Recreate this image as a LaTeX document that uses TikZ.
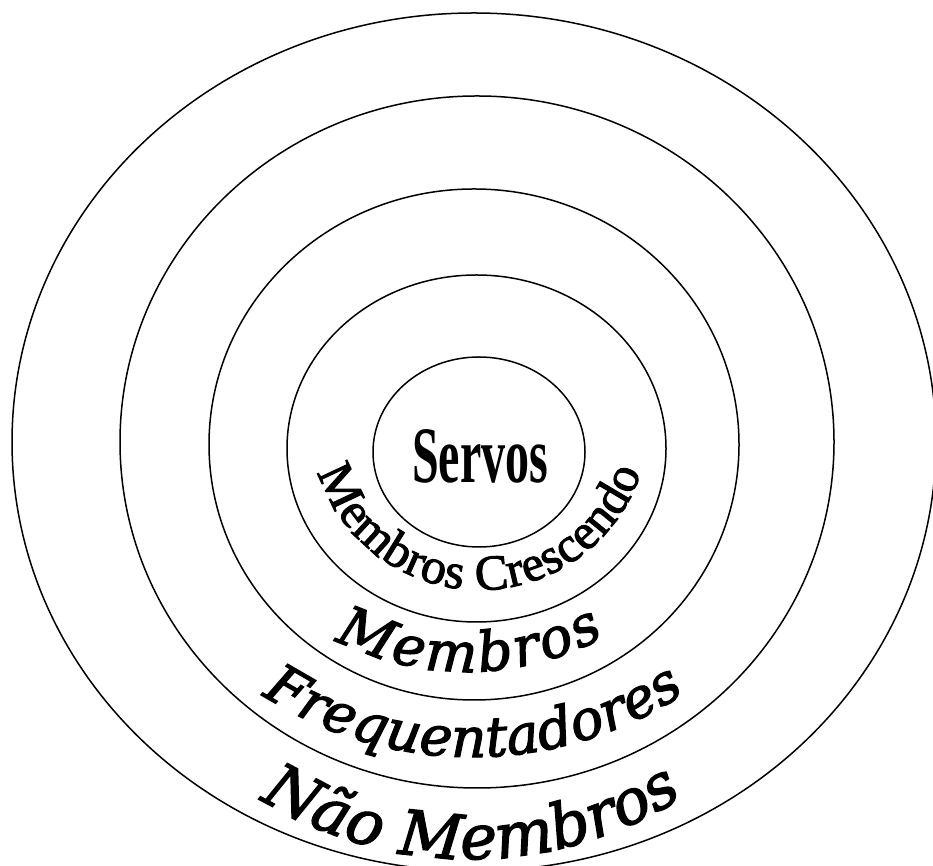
\documentclass[tikz,border=0pt]{standalone}
\usepackage{fontspec}
\usepackage{graphicx}
\setmainfont{Liberation Serif}
\newfontfamily\ringfont[FakeBold=2.2]{DejaVu Serif}
\newfontfamily\innerfont[FakeBold=2]{Liberation Serif}
\usetikzlibrary{decorations.text}
\begin{document}
\begin{tikzpicture}[x=1pt,y=1pt,
  ring/.style={draw=black, line width=1.5pt},
  arctext/.style={decorate, decoration={text along path, text={#1}, text align={fit to path}}}]
\useasboundingbox (0,0) rectangle (933,866);
\clip (0,0) rectangle (933,866);
% concentric rings
\draw[ring] (474,424) ellipse [x radius=462pt, y radius=429pt];
\draw[ring] (477,424) ellipse [x radius=357pt, y radius=346pt];
\draw[ring] (474,421.5) ellipse [x radius=265pt, y radius=255.5pt];
\draw[ring] (476.5,417.5) ellipse [x radius=189.5pt, y radius=173.5pt];
\draw[ring] (479,414) ellipse [x radius=106pt, y radius=95pt];
% centre label
\node[anchor=base, inner sep=0pt] (servos) at (480,383) {\fontsize{80pt}{80pt}\selectfont\bfseries\scalebox{0.6}[1]{Servos}};
% curved labels
\path[arctext={|\innerfont\fontsize{50pt}{60pt}\selectfont|Membros Crescendo}]
  (479.5,445.5) ++(197.7:169.5pt) arc[start angle=197.7, end angle=342.3, radius=169.5pt];
\path[arctext={|\ringfont\itshape\fontsize{55pt}{66pt}\selectfont|Membros}]
  (467,482.3) ++(242.7:288pt) arc[start angle=242.7, end angle=298.5, radius=288pt];
\path[arctext={|\ringfont\itshape\fontsize{55pt}{66pt}\selectfont|Frequentadores}]
  (472,496) ++(237.1:387pt) arc[start angle=237.1, end angle=303.4, radius=387pt];
\path[arctext={|\ringfont\itshape\fontsize{62pt}{74pt}\selectfont|Não Membros}]
  (470,404.5) ++(238.1:397.5pt) arc[start angle=238.1, end angle=302.4, radius=397.5pt];
\end{tikzpicture}
\end{document}
